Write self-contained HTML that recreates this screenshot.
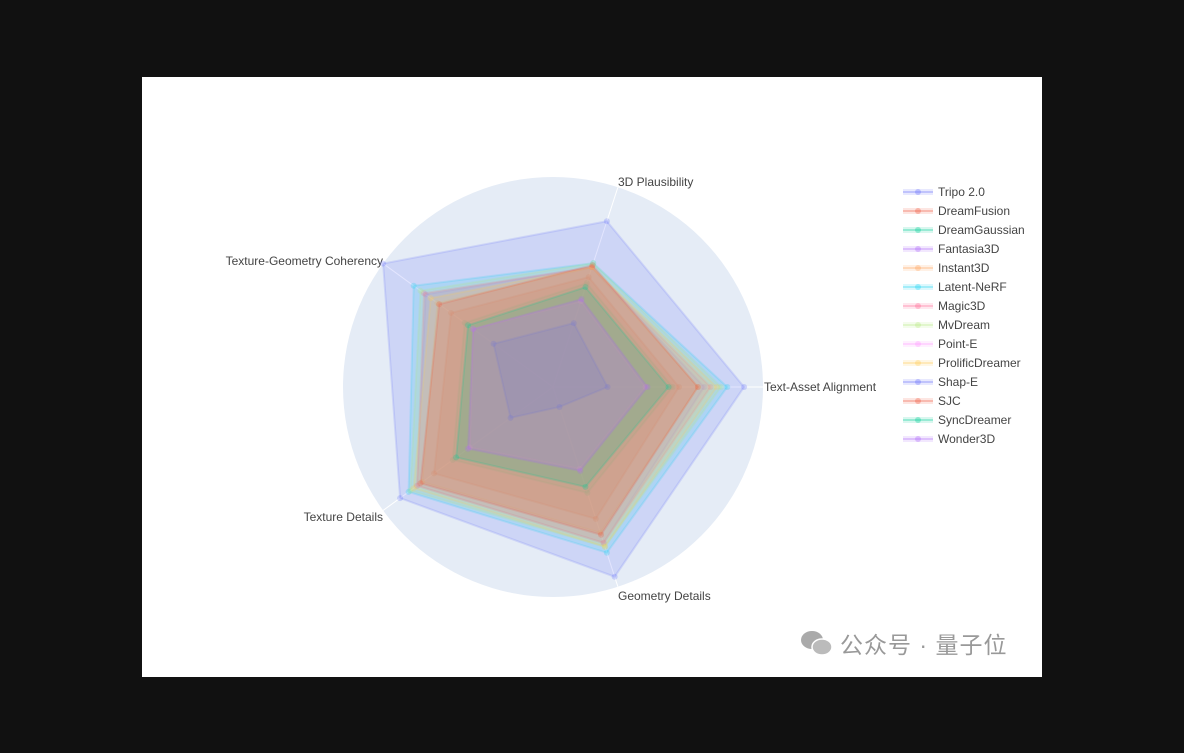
<!DOCTYPE html>
<html><head><meta charset="utf-8"><style>
body{margin:0;width:1184px;height:753px;background:#111;overflow:hidden;font-family:"Liberation Sans",sans-serif}
#panel{position:absolute;left:142px;top:77px;width:900px;height:600px;background:#fff}
svg{position:absolute;left:0;top:0}
</style></head><body>
<div id="panel"></div>
<svg id="chart" width="1184" height="753"></svg>
<script>
const axes = ["Text-Asset Alignment","3D Plausibility","Texture-Geometry Coherency","Texture Details","Geometry Details"];
const seriesNames = ["Tripo 2.0","DreamFusion","DreamGaussian","Fantasia3D","Instant3D","Latent-NeRF","Magic3D","MvDream","Point-E","ProlificDreamer","Shap-E","SJC","SyncDreamer","Wonder3D"];
const tripo = [0.91,0.83,1.0,0.9,0.95];
const dreamFusion = [0.6,0.55,0.6,0.7,0.66];
const dreamGaussian = [0.57,0.52,0.52,0.59,0.53];
const fantasia3D = [0.72,0.6,0.75,0.8,0.78];
const instant3D = [0.69,0.6,0.68,0.77,0.73];
const latentNeRF = [0.83,0.62,0.82,0.85,0.83];
const magic3D = [0.75,0.6,0.76,0.8,0.78];
const mvDream = [0.8,0.62,0.78,0.84,0.8];
const pointE = [0.44,0.43,0.47,0.49,0.41];
const prolificDreamer = [0.78,0.6,0.72,0.82,0.8];
const shapE = [0.26,0.32,0.35,0.25,0.1];
const sjc = [0.69,0.61,0.67,0.78,0.74];
const syncDreamer = [0.55,0.5,0.5,0.57,0.5];
const wonder3D = [0.45,0.44,0.47,0.5,0.42];
const seriesValues = [tripo,dreamFusion,dreamGaussian,fantasia3D,instant3D,latentNeRF,magic3D,mvDream,pointE,prolificDreamer,shapE,sjc,syncDreamer,wonder3D];
const colors = ["#636efa","#EF553B","#00cc96","#ab63fa","#FFA15A","#19d3f3","#FF6692","#B6E880","#FF97FF","#FECB52","#636efa","#EF553B","#00cc96","#ab63fa"];
const rMax = 1.0;

const NS="http://www.w3.org/2000/svg";
const svg=document.getElementById('chart');
const cx=553, cy=387, R=210;
function mk(t,a,p){const e=document.createElementNS(NS,t);for(const k in a)e.setAttribute(k,a[k]);(p||svg).appendChild(e);return e;}
function ang(i){return i*2*Math.PI/axes.length;}
function pt(i,v){const r=v/rMax*R;return [cx+r*Math.cos(ang(i)), cy-r*Math.sin(ang(i))];}

const bg=mk('circle',{cx:cx,cy:cy,r:R,fill:'#E5ECF6'});


axes.forEach((a,i)=>{
  const p=pt(i,rMax);
  const l=mk('line',{x1:cx,y1:cy,x2:p[0],y2:p[1],stroke:'#fff','stroke-width':1});
  
  
});
const labelPos=[[764,391,'start'],[618,186,'start'],[383,265,'end'],[383,521,'end'],[618,600,'start']];
axes.forEach((a,i)=>{
  const t=mk('text',{x:labelPos[i][0],y:labelPos[i][1],'text-anchor':labelPos[i][2],'font-size':12,fill:'#444'});
  t.textContent=a;
  
  
});
seriesValues.forEach((vals,s)=>{
  const g=mk('g',{});
  
  
  const pts=vals.map((v,i)=>pt(i,v));
  const poly=mk('polygon',{points:pts.map(p=>p.join(',')).join(' '),fill:colors[s],'fill-opacity':0.18,stroke:colors[s],'stroke-opacity':0.18,'stroke-width':2},g);
  
  
  pts.forEach(p=>{
    const c=mk('circle',{cx:p[0],cy:p[1],r:3,fill:colors[s],'fill-opacity':0.25},g);
    
    
  });
});
seriesNames.forEach((n,i)=>{
  const y=192+i*19;
  const g=mk('g',{});
  
  
  mk('rect',{x:903,y:y-3,width:30,height:6,fill:colors[i],'fill-opacity':0.15},g);
  mk('line',{x1:903,y1:y,x2:933,y2:y,stroke:colors[i],'stroke-opacity':0.3,'stroke-width':2},g);
  mk('circle',{cx:918,cy:y,r:3,fill:colors[i],'fill-opacity':0.35},g);
  const t=mk('text',{x:938,y:y+4,'font-size':12,fill:'#444'},g);
  t.textContent=n;
});
</script>
<div style="position:absolute;left:800px;top:626px;color:#999;font-size:23px;letter-spacing:1px;font-family:'Liberation Sans','Noto Sans CJK SC',sans-serif;display:flex;align-items:center">
<svg width="34" height="28" style="position:relative"><ellipse cx="12" cy="11" rx="11" ry="9" fill="#aaa"/><ellipse cx="22" cy="18" rx="10" ry="8" fill="#bbb" stroke="#fff" stroke-width="1.5"/></svg>
<span style="margin-left:6px">公众号 · 量子位</span></div>
</body></html>
